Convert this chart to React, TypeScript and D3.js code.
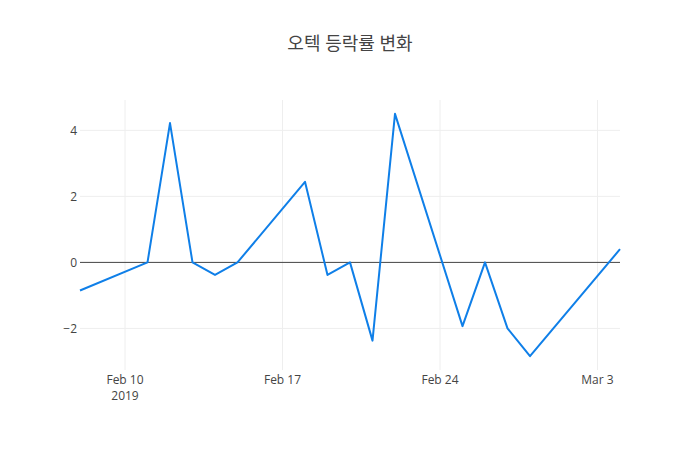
import React from 'react';
import * as d3 from 'd3';

const dates = [
  '2019-02-08', '2019-02-11', '2019-02-12', '2019-02-13', '2019-02-14', '2019-02-15',
  '2019-02-18', '2019-02-19', '2019-02-20', '2019-02-21', '2019-02-22',
  '2019-02-25', '2019-02-26', '2019-02-27', '2019-02-28', '2019-03-04',
];
const changes = [
  -0.85, 0, 4.22, 0, -0.38, 0,
  2.44, -0.38, 0, -2.37, 4.5,
  -1.93, 0, -2.0, -2.84, 0.4,
];
const yTicks = [-2, 0, 2, 4];
const xTickDates = ['2019-02-10', '2019-02-17', '2019-02-24', '2019-03-03'];
const xTickLabels = ['Feb 10', 'Feb 17', 'Feb 24', 'Mar 3'];
const yearLabel = '2019';
const title = '오텍 등락률 변화';

const W = 700;
const H = 450;
const margin = { l: 80, r: 80, t: 100, b: 80 };
const font = '"Open Sans", "Noto Sans CJK KR", sans-serif';

const parse = d3.utcParse('%Y-%m-%d');

const App: React.FC = () => {
  const pts = dates.map((d, i) => ({ date: parse(d) as Date, v: changes[i] }));

  const x = d3.scaleUtc()
    .domain(d3.extent(pts, p => p.date) as [Date, Date])
    .range([margin.l, W - margin.r]);

  const y = d3.scaleLinear()
    .domain([-3.26, 4.92])
    .range([H - margin.b, margin.t]);

  const line = d3.line<{ date: Date; v: number }>()
    .x(p => x(p.date))
    .y(p => y(p.v));

  const minus = (n: number) => (n < 0 ? '\u2212' + Math.abs(n) : String(n));

  return (
    <svg width={W} height={H} style={{ display: 'block', background: '#fff', margin: -8 }}>
      {/* grid */}
      {xTickDates.map(d => (
        <line key={d} x1={x(parse(d) as Date)} x2={x(parse(d) as Date)}
          y1={margin.t} y2={H - margin.b} stroke="#eee" strokeWidth={1} />
      ))}
      {yTicks.filter(t => t !== 0).map(t => (
        <line key={t} x1={margin.l} x2={W - margin.r} y1={y(t)} y2={y(t)}
          stroke="#eee" strokeWidth={1} />
      ))}
      {/* zero line */}
      <line x1={margin.l} x2={W - margin.r} y1={y(0)} y2={y(0)} stroke="#444" strokeWidth={1} />

      <path d={line(pts) || ''} fill="none" stroke="#0f7fe8" strokeWidth={2} strokeLinejoin="round" />

      {/* y tick labels */}
      {yTicks.map(t => (
        <text key={t} x={margin.l - 3} y={y(t)} dy="0.35em" textAnchor="end"
          fontFamily={font} fontSize={12} fill="#444">{minus(t)}</text>
      ))}

      {/* x tick labels */}
      {xTickDates.map((d, i) => (
        <text key={d} x={x(parse(d) as Date)} y={H - margin.b + 14} textAnchor="middle"
          fontFamily={font} fontSize={12} fill="#444">
          {xTickLabels[i]}
        </text>
      ))}
      <text x={x(parse(xTickDates[0]) as Date)} y={H - margin.b + 30} textAnchor="middle"
        fontFamily={font} fontSize={12} fill="#444">{yearLabel}</text>

      <text x={W / 2} y={50} textAnchor="middle" fontFamily={font} fontSize={18} fill="#444">
        {title}
      </text>
    </svg>
  );
};

export default App;
